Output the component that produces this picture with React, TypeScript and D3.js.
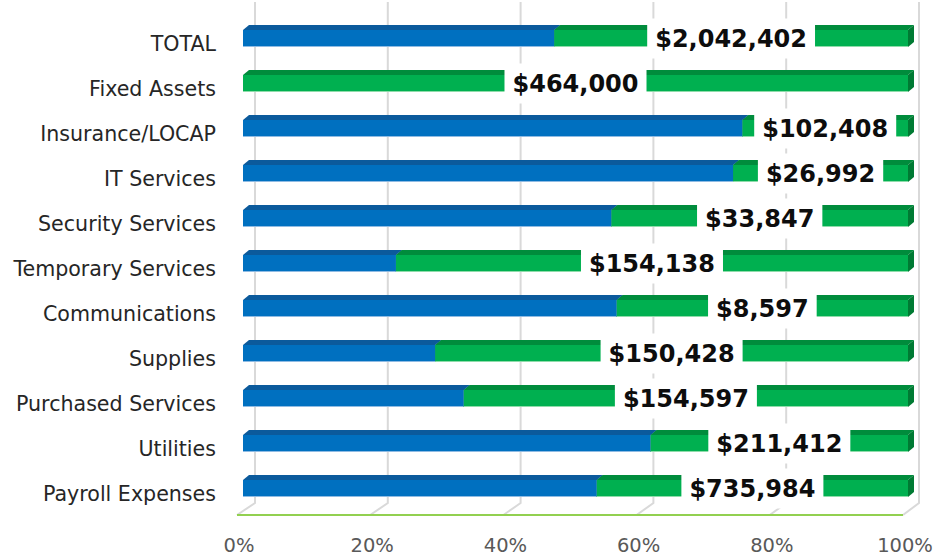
import React, { useEffect, useRef } from "react";
import * as d3 from "d3";

const categories = [
  "TOTAL",
  "Fixed Assets",
  "Insurance/LOCAP",
  "IT Services",
  "Security Services",
  "Temporary Services",
  "Communications",
  "Supplies",
  "Purchased Services",
  "Utilities",
  "Payroll Expenses",
];

// share spent (blue series)
const spentShare = [0.468, 0, 0.751, 0.737, 0.554, 0.23, 0.562, 0.289, 0.332, 0.613, 0.532];

// labels on the remaining (green) series
const remainingLabels = [
  "$2,042,402",
  "$464,000",
  "$102,408",
  "$26,992",
  "$33,847",
  "$154,138",
  "$8,597",
  "$150,428",
  "$154,597",
  "$211,412",
  "$735,984",
];

const tickValues = [0, 0.2, 0.4, 0.6, 0.8, 1];

const W = 937;
const H = 558;

export default function App() {
  const ref = useRef<SVGSVGElement | null>(null);

  useEffect(() => {
    const svg = d3.select(ref.current);
    svg.selectAll("*").remove();

    const xFront = d3.scaleLinear().domain([0, 1]).range([243, 908]);
    const xBack = d3.scaleLinear().domain([0, 1]).range([255, 919]);
    const xFloor = d3.scaleLinear().domain([0, 1]).range([237, 903]);
    const y = d3.scaleBand<string>().domain(categories).range([14, 509]).padding(0);

    const backBottom = 503;
    const floorY = 515;
    const dx = 6;
    const dy = 5;
    const barH = 17; // front face height

    // gridlines (back wall + floor diagonals)
    const g = svg.append("g");
    tickValues.forEach((t) => {
      g.append("path")
        .attr(
          "d",
          `M${xBack(t)},2 L${xBack(t)},${backBottom} L${xFloor(t)},${floorY}`
        )
        .attr("fill", "none")
        .attr("stroke", "#d9d9d9")
        .attr("stroke-width", 2);
    });

    // floor front edge (axis line)
    svg
      .append("line")
      .attr("x1", xFloor(0))
      .attr("x2", xFloor(1))
      .attr("y1", floorY)
      .attr("y2", floorY)
      .attr("stroke", "#92d050")
      .attr("stroke-width", 2);

    // tick labels
    svg
      .append("g")
      .selectAll("text")
      .data(tickValues)
      .join("text")
      .attr("x", (d) => xFloor(d) + 2)
      .attr("y", 552)
      .attr("text-anchor", "middle")
      .attr("font-family", "DejaVu Sans")
      .attr("font-size", 19.5)
      .attr("fill", "#595959")
      .text((d) => d3.format(".0%")(d));

    // category labels
    svg
      .append("g")
      .selectAll("text")
      .data(categories)
      .join("text")
      .attr("x", 216)
      .attr("y", (d) => (y(d) as number) + 11 + 26)
      .attr("text-anchor", "end")
      .attr("font-family", "DejaVu Sans")
      .attr("font-size", 20.6)
      .attr("fill", "#262626")
      .text((d) => d);

    const drawBar = (
      parent: d3.Selection<SVGGElement, unknown, null, undefined>,
      x0: number,
      x1: number,
      top: number,
      front: string,
      topC: string,
      side: string,
      edge: string
    ) => {
      if (x1 - x0 <= 0.01) return;
      const fy = top + dy;
      parent
        .append("rect")
        .attr("x", x0)
        .attr("y", fy)
        .attr("width", x1 - x0)
        .attr("height", barH)
        .attr("fill", front);
      parent
        .append("line")
        .attr("x1", x0)
        .attr("x2", x1)
        .attr("y1", fy + barH - 0.5)
        .attr("y2", fy + barH - 0.5)
        .attr("stroke", edge)
        .attr("stroke-width", 1);
      parent
        .append("path")
        .attr("d", `M${x0},${fy} L${x0 + dx},${fy - dy} L${x1 + dx},${fy - dy} L${x1},${fy} Z`)
        .attr("fill", topC);
      parent
        .append("path")
        .attr(
          "d",
          `M${x1},${fy} L${x1 + dx},${fy - dy} L${x1 + dx},${fy - dy + barH} L${x1},${fy + barH} Z`
        )
        .attr("fill", side);
    };

    const bars = svg.append("g");
    categories.forEach((c, i) => {
      const top = (y(c) as number) + 11;
      const s = spentShare[i];
      drawBar(bars, xFront(0), xFront(s), top, "#0070c0", "#0b5a9c", "#0a5590", "#8fbbe3");
      drawBar(bars, xFront(s), xFront(1), top, "#00b050", "#008c3c", "#007a33", "#8fdcaa");
    });

    // data labels with white boxes, centred on the green segment
    const labels = svg.append("g");
    categories.forEach((c, i) => {
      const top = (y(c) as number) + 11;
      const s = spentShare[i];
      const cx = xFront(s + (1 - s) / 2);
      const baseline = top + 22;
      const box = labels.append("rect").attr("fill", "#ffffff");
      const t = labels
        .append("text")
        .attr("x", cx)
        .attr("y", baseline)
        .attr("text-anchor", "middle")
        .attr("font-family", "DejaVu Sans")
        .attr("font-weight", "bold")
        .attr("font-size", 24)
        .attr("fill", "#0d0d0d")
        .text(remainingLabels[i]);
      const w = (t.node() as SVGTextElement).getComputedTextLength();
      const center = baseline - 8.5;
      box
        .attr("x", cx - w / 2 - 8)
        .attr("width", w + 16)
        .attr("y", center - 20)
        .attr("height", 40);
    });
  }, []);

  return (
    <svg
      ref={ref}
      width={W}
      height={H}
      style={{ position: "absolute", left: 0, top: 0, background: "#ffffff" }}
    />
  );
}
